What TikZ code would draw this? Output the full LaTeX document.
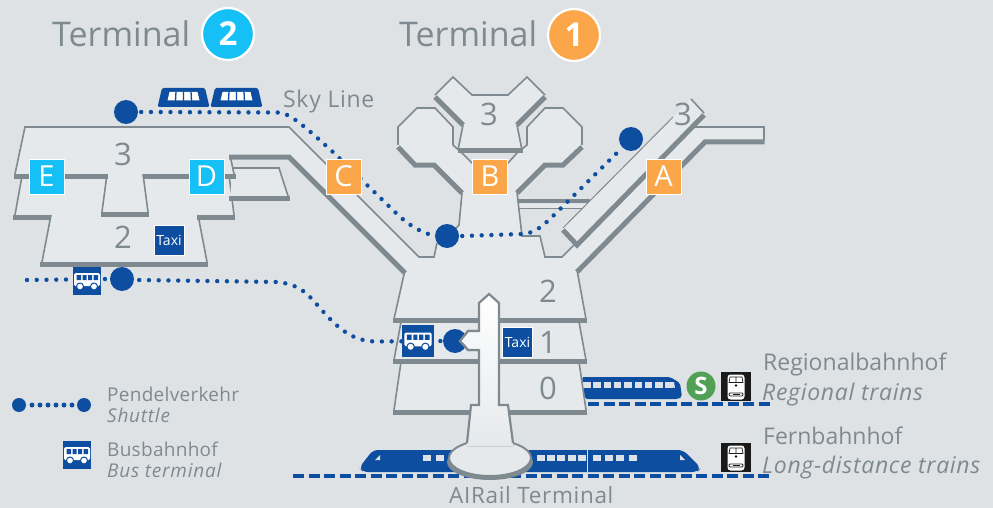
\documentclass[tikz,border=0pt]{standalone}
\usepackage{fontspec}
\setmainfont{Open Sans}
\usetikzlibrary{calc}
\definecolor{bgc}{HTML}{DFE2E5}
\definecolor{flr}{HTML}{E6E9EC}
\definecolor{wall}{HTML}{7F8A90}
\definecolor{navy}{HTML}{0D4EA0}
\definecolor{cyanb}{HTML}{14C0F5}
\definecolor{orangeb}{HTML}{FBA648}
\definecolor{greenb}{HTML}{52A055}
\definecolor{blackb}{HTML}{1A1A1A}
\definecolor{winc}{HTML}{DDE2E8}
\newcommand{\lsp}[1]{\addfontfeature{LetterSpace=#1}}
\tikzset{
  x=1pt,y=-1pt,
  floor/.style={fill=flr,draw=none},
  thinwall/.style={draw=wall,line width=1.6pt,line join=miter},
  shadow/.style={draw=wall,line width=5pt,shift={(0,2)},line join=miter},
  dots/.style={draw=navy,line width=4.4pt,line cap=round,dash pattern=on 0pt off 9.75pt},
  stop/.style={circle,fill=navy,minimum size=24pt,inner sep=0pt},
  gate/.style={draw=white,line width=1pt,minimum size=35pt,inner sep=0pt,text=white,font=\fontsize{29}{29}\selectfont},
  gateone/.style={gate,fill=orangeb},
  gatetwo/.style={gate,fill=cyanb},
  taxi/.style={fill=navy,draw=white,line width=0.7pt,minimum size=30pt,inner sep=0pt,text=white,font=\fontsize{14}{15}\selectfont},
  busbox/.style={fill=navy,minimum size=28pt,inner sep=0pt},
  level/.style={text=wall,font=\fontsize{31}{31}\selectfont,inner sep=0pt},
  title/.style={text=wall,font=\fontsize{34}{34}\selectfont,anchor=base west,inner sep=0pt},
  badge/.style={circle,draw=white,line width=2.2pt,minimum size=52pt,inner sep=0pt,text=white,font=\bfseries\fontsize{33}{33}\selectfont},
  big/.style={text=wall,font=\fontsize{23}{24}\selectfont,anchor=base west,inner sep=0pt},
  bigit/.style={big,font=\itshape\fontsize{23}{24}\selectfont\lsp{3}},
  small/.style={text=wall,font=\fontsize{19}{20}\selectfont\lsp{1.5}\relax,anchor=base west,inner sep=0pt},
  smallit/.style={small,font=\itshape\fontsize{19}{20}\selectfont\lsp{4}},
  rail/.style={draw=navy,line width=3.2pt,dash pattern=on 11pt off 4.5pt},
  trainbox/.style={fill=blackb,minimum width=30pt,minimum height=29pt,inner sep=0pt},
  bus/.pic={
    \fill[white,rounded corners=1.5pt] (-13,-8) -- (13,-8) -- (13,5) -- (-13,5) -- cycle;
    \fill[navy] (-10.5,-6) rectangle (-6,-1) (-4.5,-6) rectangle (-0.5,-1) (1,-6) rectangle (5,-1) (6.5,-6) rectangle (11,-1);
    \fill[white,draw=navy,line width=1pt] (-7,5.5) circle (3.5) (7,5.5) circle (3.5);
  },
  loco/.pic={
    \fill[white,rounded corners=3pt] (-8.5,-12) rectangle (8.5,13);
    \draw[blackb,line width=0.7pt] (-7,-4) -- (-6,-9.5) -- (6,-9.5) -- (7,-4) -- cycle (0,-9.5) -- (0,-4);
    \fill[blackb] (0,-1) circle (1.3);
    \fill[white,draw=blackb,line width=0.8pt,rounded corners=1pt] (-7,6.5) rectangle (7,9.5);
    \fill[blackb] (-3.5,7.2) rectangle (3.5,8.8);
  },
  skycar/.pic={
    \fill[navy,rounded corners=1.5pt] (-26,9.5) -- (-21.5,-9.5) -- (21.5,-9.5) -- (26,9.5) -- cycle;
    \fill[white] (-16,3) -- (-14,-5.5) -- (14,-5.5) -- (16,3) -- cycle;
    \draw[navy,line width=1.3pt] (-7.5,-6) -- (-8,3.5) (0,-6) -- (0,3.5) (7.5,-6) -- (8,3.5);
  }
}
\begin{document}
\begin{tikzpicture}
\useasboundingbox[fill=bgc] (0,0) rectangle (993,508);

% rail lines and trains
\coordinate (railTopW) at (588,404); \coordinate (railTopE) at (770,404);
\coordinate (railLowW) at (293,476); \coordinate (railLowE) at (770,476);
\draw[rail] (railTopW) -- (railTopE);
\draw[rail] (railLowW) -- (railLowE);
\fill[navy,rounded corners=2pt] (582,377) -- (670,377) -- (680,383) -- (682,397) -- (678,399) -- (585,399) -- cycle;
\foreach \x in {583,593.3,603.6,613.9,624.2,634.5,644.8,655,665.2}{\fill[winc] (\x,382) rectangle +(7.5,6);}
\fill[winc] (667,382) -- (674,382) -- (675,388) -- (668,386) -- cycle;
\fill[navy,rounded corners=5pt] (359,468) -- (373,450) -- (683,450) -- (701,468) -- (697,472) -- (363,472) -- cycle;
\foreach \x in {423,435.5,536.5,546.5,557,567.5,577.5,592.5,605,616,628.5}{\fill[winc] (\x,455) rectangle +(8,6);}
\draw[winc,line width=1pt] (587.5,450) -- (587.5,472);
\fill[winc] (375,460) -- (380,455) -- (380,460) -- cycle;
\fill[winc] (680,455) -- (685,460) -- (680,460) -- cycle;

% Terminal 2 lower floor and wing
\fill[floor] (22,175) -- (15,215) -- (51,215) -- (42,262) -- (207,262) -- (198,215) -- (234,215) -- (229,175) -- cycle;
\draw[thinwall] (22,176) -- (15,215) (51,215) -- (42,262) (207,262) -- (198,215) (234,215) -- (229,175);
\draw[shadow] (13,215) -- (51,215) (40,262) -- (208,262) (197,215) -- (235,215);
\fill[floor] (233,168) -- (279,168) -- (288,196) -- (230,196) -- cycle;
\draw[thinwall] (233,168) -- (279,168) -- (288,196);
\draw[shadow] (229,196) -- (289.5,196);

% main floor of both terminals
\fill[floor] (25,127) -- (289,127) -- (419,257) -- (434,257) -- (437,243) -- (459,225) -- (462,193) -- (434,163) -- (415,163) -- (398,145) -- (398,127) -- (417,108) -- (435,108) -- (453,127) -- (453,145) -- (462,153) -- (472,163) -- (508,163) -- (517,153) -- (527,145) -- (527,127) -- (545,108) -- (563,108) -- (582,127) -- (582,145) -- (563,163) -- (545,163) -- (517,192) -- (519,210) -- (522,236) -- (540,236) -- (545,257) -- (562,257) -- (577,270) -- (586,319) -- (394,319) -- (405,270) -- (290,155) -- (230,155) -- (234,174) -- (143,174) -- (148,212) -- (102,212) -- (107,174) -- (15,174) -- cycle;
\fill[floor] (519,204) rectangle (586,208);
\fill[floor] (562,257) -- (695,122) -- (695,127) -- (764,127) -- (764,140) -- (705,140) -- (577,270) -- cycle;

% Terminal 2 walls
\draw[thinwall] (15,174) -- (25,127) -- (289,127) -- (419,257) -- (434,257) -- (437,243);
\draw[thinwall] (107,174) -- (102,212) (143,174) -- (148,212) (230,155) -- (234,174);
\draw[shadow] (13.5,174) -- (107.5,174) (142.5,174) -- (236,174) (100.5,212) -- (149,212);
\draw[shadow] (229,155) -- (289,155) -- (405,271);

% Terminal 1 walls: octagons
\draw[thinwall] (462,193) -- (459,225) -- (450,235);
\draw[thinwall] (398,145) -- (398,127) -- (417,108) -- (435,108) -- (453,127) -- (453,145) -- (462,153) -- (472,163) -- (508,163) -- (517,153) -- (527,145) -- (527,127) -- (545,108) -- (563,108) -- (582,127) -- (582,145);
\draw[shadow] (398,145) -- (415,163) -- (434,163) -- (462,191);
\draw[shadow] (582,145) -- (563,163) -- (545,163) -- (517,191);
\draw[thinwall] (517,192) -- (519,210) -- (522,236) -- (540,236) -- (545,257) -- (562,257) -- (575,244);
\draw[draw=wall,line width=4.5pt] (518,201) -- (590,201);
\draw[draw=wall,line width=1pt] (519,208) -- (583,208);

% Terminal 1 pier B head
\fill[floor] (435,95) -- (453,77) -- (472,95) -- (508,95) -- (527,77) -- (545,95) -- (517,123) -- (522,150) -- (458,150) -- (463,123) -- cycle;
\draw[shadow] (435,95) -- (463,123);
\draw[shadow] (545,95) -- (517,123);
\draw[shadow] (457.5,148.5) -- (522.5,148.5);
\draw[thinwall] (463,125) -- (458,150) (517,125) -- (522,150);
\draw[thinwall] (435,95) -- (453,77) -- (472,95) -- (508,95) -- (527,77) -- (545,95);

% Terminal 1 pier A and east wing
\fill[floor] (563,228) -- (691,99) -- (704,113) -- (577,243) -- cycle;
\draw[draw=wall,line width=1pt] (563,228) -- (673,117);
\draw[thinwall] (691,99) -- (704,113);
\draw[shadow] (704,113) -- (577,243) -- (563,228);
\draw[thinwall] (695,127) -- (764,127) -- (764,140);
\draw[shadow] (764.7,140) -- (705,140) -- (577,270);

% lower main building
\draw[thinwall] (405,270) -- (394,319) (577,270) -- (586,319);
\fill[floor] (401,320) -- (579,320) -- (586,360) -- (394,360) -- cycle;
\fill[floor] (401,362) -- (579,362) -- (586,410) -- (394,410) -- cycle;
\draw[thinwall] (401,322) -- (394,360) (579,322) -- (586,360) (401,362) -- (394,410) (579,362) -- (586,410);
\draw[shadow] (393,318.5) -- (587,318.5);
\draw[shadow] (393,359.5) -- (587,359.5);
\draw[shadow] (393,410) -- (587,410);

% AIRail spine
\fill[wall] (490,462) ellipse (43 and 18);
\fill[flr,draw=wall,line width=2pt] (490,458) ellipse (41 and 18);
\fill[top color=white,bottom color=flr,draw=none] (479,303) -- (489,294) -- (499,303) -- (499,405) -- (508,405) -- (513,443) -- (513,446) -- (467,446) -- (467,442) -- (471,405) -- (479,405) -- (479,350) -- (468,350) -- (460,341) -- (468,331) -- (479,331) -- cycle;
\draw[draw=wall,line width=2.2pt,line join=miter] (513,443) -- (508,405) -- (499,405) -- (499,303) -- (489,294) -- (479,303) -- (479,331) -- (468,331) -- (460,341) -- (468,350) -- (479,350) -- (479,405) -- (471,405) -- (467,443);

% shuttle stops and dotted lines
\node[stop] (skyW) at (126,112) {};
\node[stop] (hub) at (447,236) {};
\node[stop] (pierA) at (631,139) {};
\node[stop] (busW) at (122,279) {};
\node[stop] (busE) at (455,341) {};
\coordinate (farW) at (27,280);
\draw[dots] (skyW.east) ++(3,0) -- (279,112.5) .. controls (290,114) and (300,122) .. (334,153) -- (397,214) .. controls (410,226) and (420,232) .. (hub.west);
\draw[dots] (hub.east) ++(3,0) -- (522,234) .. controls (532,233) and (537,231) .. (550,219) -- (pierA);
\draw[dots] (farW) -- (busW.west);
\draw[dots] (busW.east) ++(5,1) -- (278,282) .. controls (300,285) and (307,293) .. (319,307) .. controls (335,325) and (350,341) .. (375,341.5) -- (busE.west);

% bus boxes
\node[busbox] (busT2) at (87,281) {};
\pic at (busT2) {bus};
\node[busbox,minimum size=32pt] (busT1) at (418,341) {};
\pic[scale=1.05] at (busT1) {bus};

% spine arrow over stop
\fill[white!60!flr] (480,332) -- (469,332) -- (461,341) -- (469,349) -- (480,349) -- cycle;
\draw[draw=wall,line width=2.2pt,line join=miter] (479,331) -- (468,331) -- (460,341) -- (468,350) -- (479,350);

% gate labels
\node[gatetwo] (gateE) at (46.5,176.5) {E};
\node[gatetwo] (gateD) at (206.5,176.5) {D};
\node[gateone] (gateC) at (343.5,176.5) {C};
\node[gateone] (gateB) at (490,176.5) {B};
\node[gateone] (gateA) at (663.5,176.5) {A};
\node[taxi] (taxiT2) at (169,240.5) {Taxi};
\node[taxi] (taxiT1) at (517.5,342) {Taxi};

% level numbers
\node[level] (n3a) at (123,154) {3};
\node[level] (n2a) at (123,237) {2};
\node[level] (n3b) at (489,114) {3};
\node[level] (n3c) at (683,114) {3};
\node[level] (n2b) at (548,291) {2};
\node[level] (n1b) at (548,342) {1};
\node[level] (n0b) at (548,388) {0};

% headings
\node[title] (t2) at (52,47) {Terminal};
\node[badge,fill=cyanb] (b2) at (228,34) {2};
\node[title] (t1) at (399,47) {Terminal};
\node[badge,fill=orangeb] (b1) at (574,35) {1};

% sky line
\pic at (183.5,97.5) {skycar};
\pic at (236.5,97.5) {skycar};
\node[big] (sky) at (283,108) {\fontsize{23}{24}\selectfont\lsp{3}Sky Line};

% station icons
\node[circle,fill=greenb,minimum size=29pt,inner sep=0pt,text=white,font=\bfseries\fontsize{24}{24}\selectfont] (sbahn) at (701,386) {S};
\node[trainbox] (regio) at (736,386.5) {};
\pic at (regio) {loco};
\node[trainbox] (fern) at (736,457.5) {};
\pic at (fern) {loco};

% labels
\node[big] (l1) at (763,370) {Regionalbahnhof};
\node[bigit] (l2) at (762,400) {Regional trains};
\node[big] (l3) at (763,444) {Fernbahnhof};
\node[bigit] (l4) at (762,473) {Long-distance trains};
\node[big] (l5) at (449,503.5) {\fontsize{22.5}{24}\selectfont\lsp{3}AIRail Terminal};

% legend
\node[circle,fill=navy,minimum size=14pt,inner sep=0pt] (legA) at (19,405) {};
\node[circle,fill=navy,minimum size=14pt,inner sep=0pt] (legB) at (84,405) {};
\draw[draw=navy,line width=5pt,line cap=round,dash pattern=on 0pt off 8pt] (32,405) -- (73,405);
\node[small] (p1) at (107,401) {Pendelverkehr};
\node[smallit] (p2) at (107,422) {Shuttle};
\node[busbox] (legBus) at (77,455) {};
\pic at (legBus) {bus};
\node[small] (p3) at (107,456) {Busbahnhof};
\node[smallit] (p4) at (107,477) {Bus terminal};
\end{tikzpicture}
\end{document}
